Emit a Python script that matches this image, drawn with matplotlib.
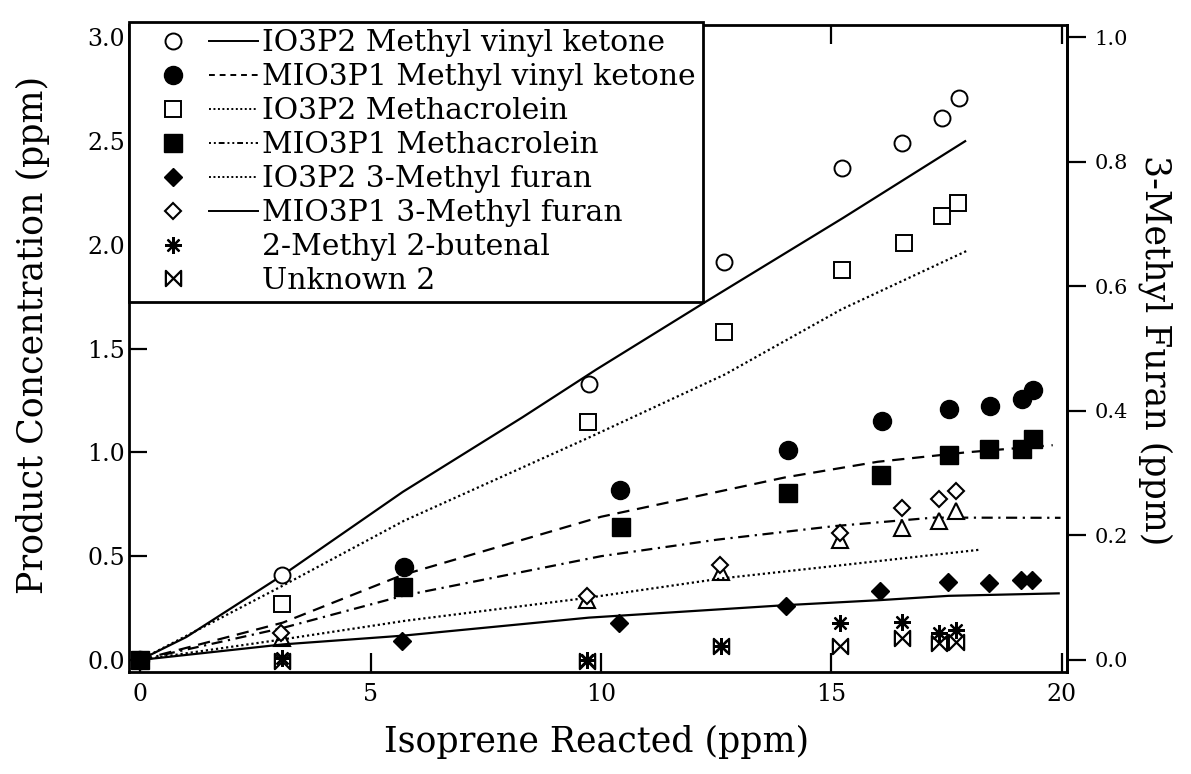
import matplotlib
matplotlib.use('Agg')
import matplotlib.pyplot as plt
from matplotlib.lines import Line2D
from matplotlib.legend_handler import HandlerBase
from matplotlib.path import Path

# ---------------- data ----------------
# Left axis: Product Concentration (ppm)
mvk_io3p2_x = [0, 3.07, 9.74, 12.66, 15.23, 16.52, 17.40, 17.77]
mvk_io3p2_y = [0, 0.41, 1.33, 1.92, 2.37, 2.49, 2.61, 2.71]

mvk_mio3p1_x = [0, 5.73, 10.41, 14.05, 16.09, 17.56, 18.44, 19.13, 19.38]
mvk_mio3p1_y = [0, 0.45, 0.82, 1.01, 1.15, 1.21, 1.225, 1.26, 1.30]

macr_io3p2_x = [0, 3.08, 9.72, 12.66, 15.23, 16.57, 17.39, 17.75]
macr_io3p2_y = [0, 0.27, 1.145, 1.58, 1.88, 2.01, 2.14, 2.20]

macr_mio3p1_x = [0, 5.71, 10.43, 14.05, 16.07, 17.56, 18.42, 19.13, 19.38]
macr_mio3p1_y = [0, 0.35, 0.64, 0.805, 0.89, 0.99, 1.015, 1.015, 1.065]

tri_x = [0, 3.07, 9.70, 12.60, 15.19, 16.53, 17.34, 17.70]
tri_y = [0, 0.106, 0.29, 0.426, 0.58, 0.635, 0.67, 0.72]

mb_x = [3.07, 9.69, 12.61, 15.18, 16.53, 17.34, 17.70]
mb_y = [0.01, 0.0, 0.065, 0.18, 0.185, 0.128, 0.145]

unk_x = [3.07, 9.69, 12.61, 15.19, 16.53, 17.34, 17.70]
unk_y = [-0.005, -0.005, 0.065, 0.067, 0.105, 0.084, 0.086]

# model curves (left axis)
fit_mvk_io3p2_x = [0, 1.0, 3.1, 5.7, 8.3, 9.9, 12.3, 15.25, 17.9]
fit_mvk_io3p2_y = [0, 0.11, 0.41, 0.81, 1.17, 1.40, 1.73, 2.13, 2.50]
fit_mvk_mio3p1_x = [0, 3.1, 5.7, 10.0, 14.0, 16.0, 17.9, 19.8]
fit_mvk_mio3p1_y = [0, 0.18, 0.41, 0.69, 0.88, 0.955, 1.00, 1.035]
fit_macr_io3p2_x = [0, 3.07, 5.72, 9.72, 12.68, 15.22, 17.97]
fit_macr_io3p2_y = [0, 0.355, 0.67, 1.07, 1.375, 1.69, 1.975]
fit_macr_mio3p1_x = [0, 3.09, 5.72, 10.0, 12.53, 15.06, 17.22, 19.97]
fit_macr_mio3p1_y = [0, 0.154, 0.31, 0.50, 0.58, 0.645, 0.686, 0.685]

# Right axis: 3-Methyl Furan (ppm)
mf_io3p2_x = [0, 5.68, 10.39, 14.02, 16.05, 17.52, 18.41, 19.11, 19.36]
mf_io3p2_y = [0, 0.031, 0.059, 0.087, 0.111, 0.125, 0.124, 0.129, 0.129]
mf_mio3p1_x = [0, 3.06, 9.70, 12.58, 15.19, 16.53, 17.34, 17.70]
mf_mio3p1_y = [0, 0.043, 0.103, 0.152, 0.204, 0.244, 0.258, 0.272]

fit_mf_io3p2_x = [0, 3.09, 5.76, 9.73, 12.62, 15.07, 18.21]
fit_mf_io3p2_y = [0, 0.033, 0.063, 0.10, 0.131, 0.151, 0.177]
fit_mf_mio3p1_x = [0, 3.1, 5.7, 9.74, 14.0, 16.03, 17.54, 19.93]
fit_mf_mio3p1_y = [0, 0.025, 0.039, 0.068, 0.088, 0.096, 0.103, 0.107]

labels = ["IO3P2 Methyl vinyl ketone", "MIO3P1 Methyl vinyl ketone",
          "IO3P2 Methacrolein", "MIO3P1 Methacrolein",
          "IO3P2 3-Methyl furan", "MIO3P1 3-Methyl furan",
          "2-Methyl 2-butenal", "Unknown 2"]
x_ticks = [0, 5, 10, 15, 20]
yl_ticks = [0.0, 0.5, 1.0, 1.5, 2.0, 2.5, 3.0]
yr_ticks = [0.0, 0.2, 0.4, 0.6, 0.8, 1.0]

# ---------------- styles ----------------
plt.rcParams['font.family'] = ['DejaVu Serif']
K = 'black'
LW = 1.6
SOLID = '-'
DASHED = (0, (5.5, 3.5))
DOTTED = (0, (1, 1.3))
DASHDOT = (0, (5, 2.5, 1, 2.5))

bowtie = Path([(-1, -1), (1, 1), (1, -1), (-1, 1), (-1, -1)],
              [Path.MOVETO, Path.LINETO, Path.LINETO, Path.LINETO, Path.CLOSEPOLY])
asterisk = (8, 2, 0)

mk = {
    'oc': dict(marker='o', ms=11.5, mfc='white', mec=K, mew=1.4),
    'fc': dict(marker='o', ms=13, mfc=K, mec=K, mew=1),
    'os': dict(marker='s', ms=11.5, mfc='white', mec=K, mew=1.4),
    'fs': dict(marker='s', ms=12.5, mfc=K, mec=K, mew=1),
    'fd': dict(marker='D', ms=9.5, mfc=K, mec=K, mew=1),
    'od': dict(marker='D', ms=7.8, mfc='white', mec=K, mew=1.5),
    'ot': dict(marker='^', ms=11, mfc='white', mec=K, mew=1.5),
    'ast': dict(marker=asterisk, ms=12, mfc=K, mec=K, mew=1.6),
    'bow': dict(marker=bowtie, ms=11, mfc='none', mec=K, mew=1.6),
}

fig = plt.figure(figsize=(11.91, 7.74), dpi=100)
ax = fig.add_axes([0.1087, 0.1318, 0.7868, 0.8359])
ax2 = ax.twinx()

ylo, yhi = -0.058, 3.06
ax.set_xlim(-0.23, 20.1)
ax.set_ylim(ylo, yhi)
ax2.set_ylim(ylo / 3.0, yhi / 3.0)

# model curves
ax.plot(fit_mvk_io3p2_x, fit_mvk_io3p2_y, color=K, lw=LW, ls=SOLID)
ax.plot(fit_mvk_mio3p1_x, fit_mvk_mio3p1_y, color=K, lw=LW, ls=DASHED)
ax.plot(fit_macr_io3p2_x, fit_macr_io3p2_y, color=K, lw=LW, ls=DOTTED)
ax.plot(fit_macr_mio3p1_x, fit_macr_mio3p1_y, color=K, lw=LW, ls=DASHDOT)
ax2.plot(fit_mf_io3p2_x, fit_mf_io3p2_y, color=K, lw=LW, ls=DOTTED)
ax2.plot(fit_mf_mio3p1_x, fit_mf_mio3p1_y, color=K, lw=LW, ls=SOLID)

# data points
ax.plot(tri_x, tri_y, ls='none', **mk['ot'])
ax.plot(mb_x, mb_y, ls='none', **mk['ast'])
ax.plot(unk_x, unk_y, ls='none', **mk['bow'])
ax.plot(mvk_io3p2_x, mvk_io3p2_y, ls='none', **mk['oc'])
ax.plot(mvk_mio3p1_x, mvk_mio3p1_y, ls='none', **mk['fc'])
ax.plot(macr_io3p2_x, macr_io3p2_y, ls='none', **mk['os'])
ax2.plot(mf_io3p2_x, mf_io3p2_y, ls='none', **mk['fd'])
ax2.plot(mf_mio3p1_x, mf_mio3p1_y, ls='none', **mk['od'])
ax2.plot(macr_mio3p1_x, [v / 3.0 for v in macr_mio3p1_y], ls='none', **mk['fs'])

# axes cosmetics
for s in ax.spines.values():
    s.set_linewidth(2.0)
for s in ax2.spines.values():
    s.set_visible(False)
ax2.spines['right'].set_visible(True)
ax2.spines['right'].set_linewidth(2.0)

ax.set_xticks(x_ticks)
ax.set_xticklabels([str(t) for t in x_ticks])
ax.set_yticks(yl_ticks)
ax.set_yticklabels([f"{t:.1f}" for t in yl_ticks])
ax2.set_yticks(yr_ticks)
ax2.set_yticklabels([f"{t:.1f}" for t in yr_ticks])

ax.tick_params(axis='x', which='major', direction='in', top=True, bottom=True,
               length=14, width=1.6, pad=8, labelsize=17)
ax.tick_params(axis='y', which='major', direction='in', left=True, right=False,
               length=13, width=1.6, pad=3, labelsize=17)
ax2.tick_params(axis='y', which='major', direction='out', right=True,
                length=14, width=1.6, pad=6, labelsize=15)

fig.text(33 / 1191, 1 - 335 / 774, "Product Concentration (ppm)", rotation=90,
         ha='center', va='center', fontsize=25)
fig.text(1155 / 1191, 1 - 350 / 774, "3-Methyl Furan (ppm)", rotation=270,
         ha='center', va='center', fontsize=25)
fig.text(597 / 1191, 1 - 742 / 774, "Isoprene Reacted (ppm)",
         ha='center', va='center', fontsize=25)


# ---------------- legend ----------------
class Entry:
    def __init__(self, mkey, ls):
        self.mkey = mkey
        self.ls = ls


class MarkLineHandler(HandlerBase):
    def create_artists(self, legend, orig_handle, xdescent, ydescent,
                       width, height, fontsize, trans):
        y = height / 2.0 - ydescent
        arts = []
        m = Line2D([-xdescent + 0.30 * width], [y], ls='none', **mk[orig_handle.mkey])
        m.set_transform(trans)
        arts.append(m)
        if orig_handle.ls is not None:
            ln = Line2D([-xdescent + 0.60 * width, -xdescent + width], [y, y],
                        color=K, lw=1.4, ls=orig_handle.ls)
            ln.set_transform(trans)
            arts.append(ln)
        return arts


entries = [Entry('oc', SOLID), Entry('fc', (0, (3, 2.5))), Entry('os', DOTTED),
           Entry('fs', (0, (1, 1.5, 1, 1.5, 3, 1.5))), Entry('fd', DOTTED),
           Entry('od', SOLID), Entry('ast', None), Entry('bow', None)]

leg = ax2.legend(entries, labels, handler_map={Entry: MarkLineHandler()},
                 loc='upper left', bbox_to_anchor=(0.1087, 0.972),
                 bbox_transform=fig.transFigure, borderaxespad=0,
                 frameon=True, fancybox=False, edgecolor=K, framealpha=1,
                 borderpad=0.25, labelspacing=0.2, handletextpad=0.15,
                 handlelength=4.05, fontsize=21.5)
leg.get_frame().set_linewidth(2.0)
leg.set_zorder(10)

fig.savefig('out.png', dpi=100)
